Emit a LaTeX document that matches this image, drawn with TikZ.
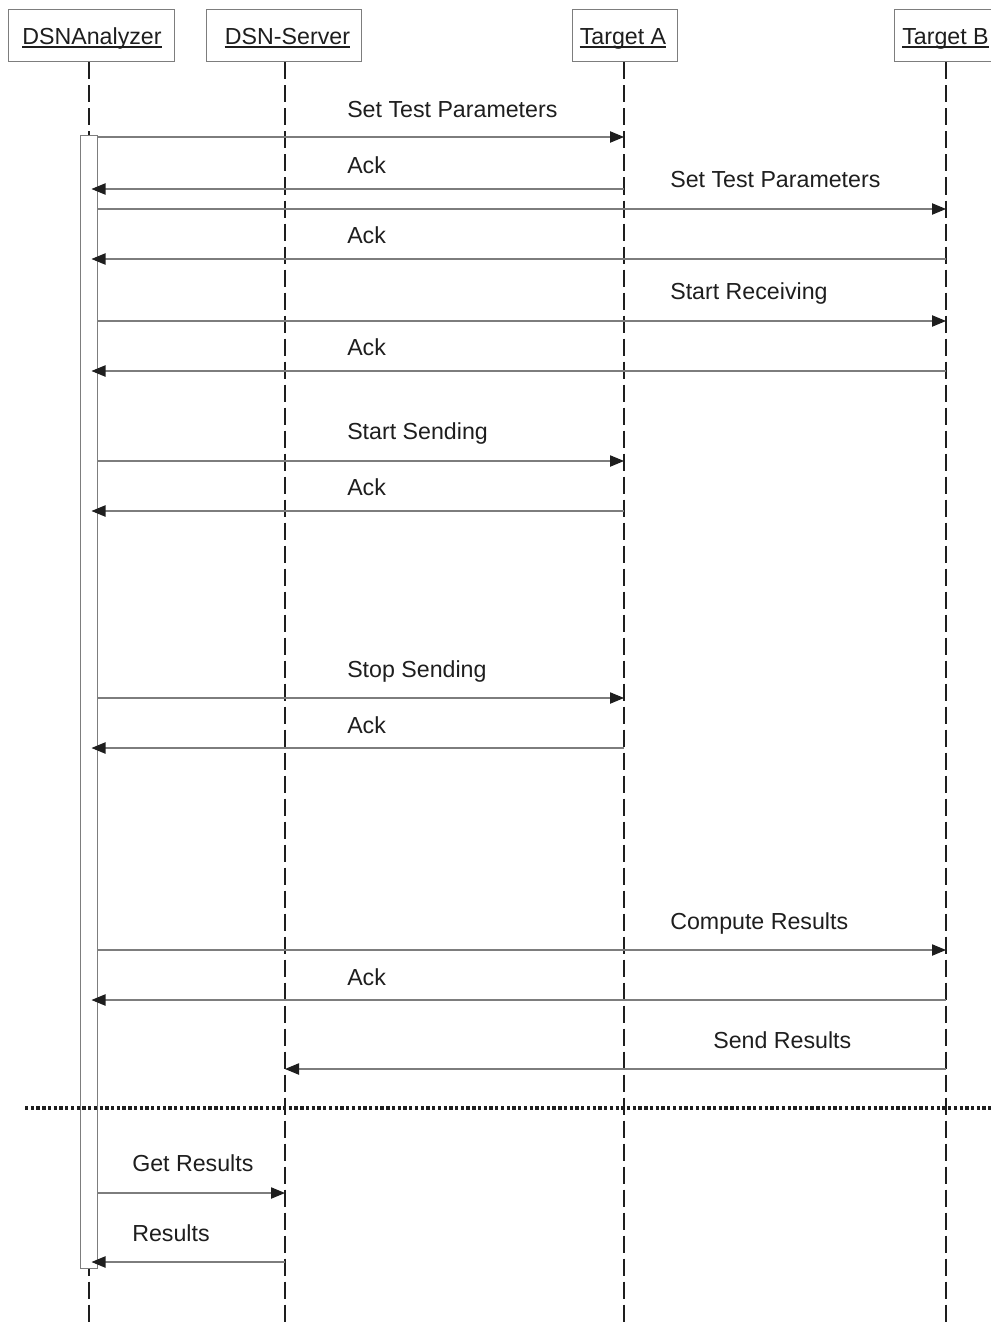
\documentclass[tikz,border=0pt]{standalone}
\usepackage{fontspec}
\setmainfont{Liberation Sans}
\usetikzlibrary{arrows.meta,calc}
\definecolor{ink}{RGB}{30,30,30}
\definecolor{rule}{RGB}{125,125,125}
\begin{document}
\begin{tikzpicture}[x=0.75pt,y=-0.75pt,
  every node/.style={text=ink},
  txt/.style={font=\fontsize{17.4}{20}\selectfont, inner sep=0pt},
  lbl/.style={txt, anchor=base west},
  headbox/.style={draw=rule, line width=0.75pt, minimum height=39pt, inner sep=0pt},
  lifeline/.style={draw=ink, line width=1.6pt, dash pattern=on 12.75pt off 4.5pt},
  msg/.style={draw=rule, line width=0.8pt,
    -{Triangle[length=10.5pt,width=8.5pt,fill=ink,color=ink]}},
  separator/.style={draw=ink, line width=2.6pt, dash pattern=on 2.5pt off 1.8pt}
]
\useasboundingbox (0,0) rectangle (990,1327);

% participant headers
\node[headbox, minimum width=124.5pt] (hA) at (91,36) {};
\node[headbox, minimum width=116.25pt] (hS) at (283.5,36) {};
\node[headbox, minimum width=78.75pt] (hTa) at (624.5,36) {};
\node[headbox, minimum width=78pt] (hTb) at (946,36) {};
\node[txt, anchor=base] (tA) at (92,44.5) {DSNAnalyzer};
\node[txt, anchor=base] (tS) at (287.5,44.5) {DSN-Server};
\node[txt, anchor=base] (tTa) at (623,44.5) {Target A};
\node[txt, anchor=base] (tTb) at (945.5,44.5) {Target B};
\foreach \t in {tA,tS,tTa,tTb}
  \draw[ink, line width=1pt] ($(\t.base west)+(0,2.5)$) -- ($(\t.base east)+(0,2.5)$);

% lifelines
\coordinate (LA) at (89,1327);
\coordinate (LS) at (285,1327);
\coordinate (LTa) at (624,1327);
\coordinate (LTb) at (946,1327);
\draw[lifeline] (hA.south -| LA) -- (LA);
\draw[lifeline] (hS.south -| LS) -- (LS);
\draw[lifeline] (hTa.south -| LTa) -- (LTa);
\draw[lifeline] (hTb.south -| LTb) -- (LTb);

% activation bar of DSNAnalyzer
\node[draw=rule, fill=white, line width=0.75pt, inner sep=0pt,
      minimum width=12.75pt, minimum height=849pt] (bar) at (89,702) {};
\coordinate (out) at (97.5,0);
\coordinate (in) at (91.5,0);

% messages
\draw[msg] (out |- 0,137) -- (LTa |- 0,137);
\node[lbl] (m1) at (347,118) {Set Test Parameters};
\draw[msg] (LTa |- 0,189) -- (in |- 0,189);
\node[lbl] (m2) at (347,174) {Ack};
\draw[msg] (out |- 0,209) -- (LTb |- 0,209);
\node[lbl] (m3) at (670,187) {Set Test Parameters};
\draw[msg] (LTb |- 0,259) -- (in |- 0,259);
\node[lbl] (m4) at (347,243) {Ack};
\draw[msg] (out |- 0,321) -- (LTb |- 0,321);
\node[lbl] (m5) at (670,299) {Start Receiving};
\draw[msg] (LTb |- 0,371) -- (in |- 0,371);
\node[lbl] (m6) at (347,355) {Ack};
\draw[msg] (out |- 0,461) -- (LTa |- 0,461);
\node[lbl] (m7) at (347,439) {Start Sending};
\draw[msg] (LTa |- 0,511) -- (in |- 0,511);
\node[lbl] (m8) at (347,495) {Ack};
\draw[msg] (out |- 0,698) -- (LTa |- 0,698);
\node[lbl] (m9) at (347,677) {Stop Sending};
\draw[msg] (LTa |- 0,748) -- (in |- 0,748);
\node[lbl] (m10) at (347,733) {Ack};
\draw[msg] (out |- 0,950) -- (LTb |- 0,950);
\node[lbl] (m11) at (670,929) {Compute Results};
\draw[msg] (LTb |- 0,1000) -- (in |- 0,1000);
\node[lbl] (m12) at (347,985) {Ack};
\draw[msg] (LTb |- 0,1069) -- (LS |- 0,1069);
\node[lbl] (m13) at (713,1048) {Send Results};

% phase separator
\coordinate (sepL) at (25,1108);
\coordinate (sepR) at (992,1108);
\draw[separator] (sepL) -- (sepR);

\draw[msg] (out |- 0,1193) -- (LS |- 0,1193);
\node[lbl] (m14) at (132,1171) {Get Results};
\draw[msg] (LS |- 0,1262) -- (in |- 0,1262);
\node[lbl] (m15) at (132,1241) {Results};
\end{tikzpicture}
\end{document}
